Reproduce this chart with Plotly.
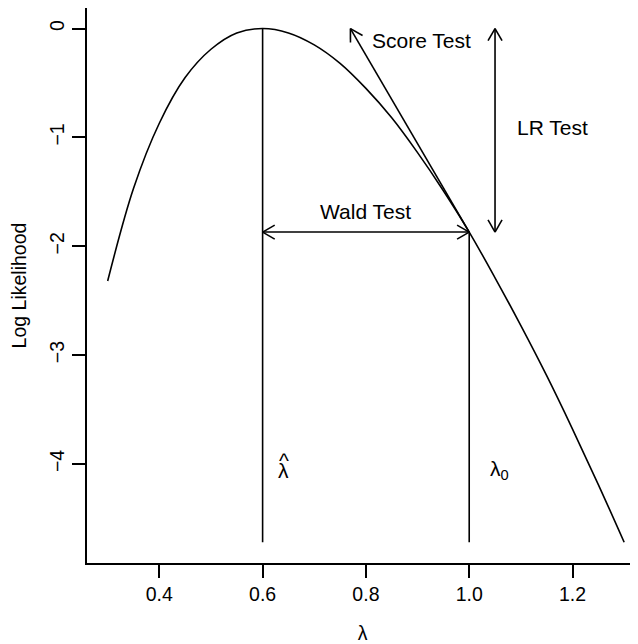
import numpy as np
import plotly.graph_objects as go

# log likelihood curve
lam = [0.30, 0.35, 0.40, 0.45, 0.50, 0.55, 0.60, 0.65, 0.70, 0.75, 0.80,
       0.85, 0.90, 0.95, 1.00, 1.05, 1.10, 1.15, 1.20, 1.25, 1.30]
loglik = [-2.32, -1.47, -0.87, -0.45, -0.19, -0.04, 0.00, -0.04, -0.15, -0.32, -0.55,
          -0.82, -1.14, -1.49, -1.87, -2.29, -2.73, -3.19, -3.68, -4.19, -4.72]

lam_hat = 0.6
lam_0 = 1.0
ll_max = 0.0
ll_lam0 = -1.87
ll_min = -4.72
score_tip = (0.77, 0.0)
lr_x = 1.05

xticks = [0.4, 0.6, 0.8, 1.0, 1.2]
xtick_text = ["0.4", "0.6", "0.8", "1.0", "1.2"]
yticks = [0, -1, -2, -3, -4]
ytick_text = ["0", "\u22121", "\u22122", "\u22123", "\u22124"]

# layout (page body adds 8px, so the figure is 630x636)
W, H = 630, 636
ML, MR, MT, MB = 79, 0, 0, 81
XR = [0.26, 1.3268]
YR = [-4.911, 0.189]
sx = (W - ML - MR) / (XR[1] - XR[0])
sy = (H - MT - MB) / (YR[1] - YR[0])

FONT = "Liberation Sans, Arial, Helvetica, sans-serif"
FS = 21
FS_TICK = 19.5
LW = 1.6


def head(x0, y0, x1, y1, length=14, angle=30):
    # open V arrow head at (x1, y1), shaft coming from (x0, y0)
    a = np.arctan2((y1 - y0) * sy, (x1 - x0) * sx)
    xs, ys = [], []
    for s in (1, -1):
        b = a + np.pi - s * np.radians(angle)
        xs += [x1 + length * np.cos(b) / sx, x1, None]
        ys += [y1 + length * np.sin(b) / sy, y1, None]
    return xs, ys


line = dict(color="black", width=LW)
fig = go.Figure()

fig.add_trace(go.Scatter(x=lam, y=loglik, mode="lines", line=dict(color="black", width=LW, shape="spline")))

# vertical lines at lambda hat and lambda 0
fig.add_trace(go.Scatter(x=[lam_hat, lam_hat, None, lam_0, lam_0],
                         y=[ll_max, ll_min, None, ll_lam0, ll_min], mode="lines", line=line))

# shafts: wald, LR, score
fig.add_trace(go.Scatter(x=[lam_hat, lam_0, None, lr_x, lr_x, None, lam_0, score_tip[0]],
                         y=[ll_lam0, ll_lam0, None, ll_max, ll_lam0, None, ll_lam0, score_tip[1]],
                         mode="lines", line=line))

hx, hy = [], []
for seg in [(lam_0, ll_lam0, lam_hat, ll_lam0), (lam_hat, ll_lam0, lam_0, ll_lam0),
            (lr_x, ll_lam0, lr_x, ll_max), (lr_x, ll_max, lr_x, ll_lam0),
            (lam_0, ll_lam0, score_tip[0], score_tip[1])]:
    a, b = head(*seg)
    hx += a
    hy += b
fig.add_trace(go.Scatter(x=hx, y=hy, mode="lines", line=line))

tf = dict(family=FONT, size=FS, color="black")
fig.add_annotation(x=0.808, y=-0.11, text="Score Test", showarrow=False, xanchor="left", font=tf)
fig.add_annotation(x=1.088, y=-0.91, text="LR Test", showarrow=False, xanchor="left", font=tf)
fig.add_annotation(x=0.80, y=-1.68, text="Wald Test", showarrow=False, font=tf)
fig.add_annotation(x=0.641, y=-4.065, text="\u03bb", showarrow=False, font=tf)
fig.add_annotation(x=0.641, y=-3.97, text="^", showarrow=False, font=tf)
fig.add_annotation(x=1.037, y=-4.06, text="\u03bb<sub>0</sub>", showarrow=False, xanchor="left", font=tf)

fig.update_layout(
    width=W, height=H,
    margin=dict(l=ML, r=MR, t=MT, b=MB),
    plot_bgcolor="white", paper_bgcolor="white",
    showlegend=False,
    font=tf,
)
tick_font = dict(family=FONT, size=FS_TICK, color="black")
fig.update_xaxes(range=XR, showgrid=False, zeroline=False, showline=True, linecolor="black",
                 linewidth=LW, mirror=True, ticks="outside", ticklen=13, tickwidth=LW,
                 tickcolor="black", tickvals=xticks, ticktext=xtick_text, tickfont=tick_font,
                 automargin=False, title=dict(text="\u03bb", standoff=22, font=tick_font))
fig.update_yaxes(range=YR, showgrid=False, zeroline=False, showline=True, linecolor="black",
                 linewidth=LW, mirror=False, ticks="outside", ticklen=13, tickwidth=LW,
                 tickcolor="black", tickvals=yticks, ticktext=ytick_text, tickangle=-90,
                 tickfont=tick_font, automargin=False,
                 title=dict(text="Log Likelihood", standoff=17, font=tick_font))

fig.write_html("out.html")
